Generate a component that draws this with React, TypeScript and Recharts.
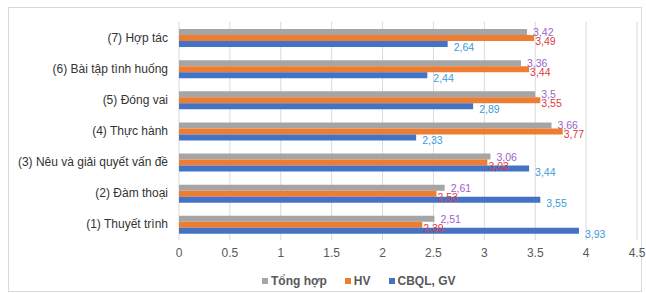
import { BarChart, Bar, XAxis, YAxis, CartesianGrid, LabelList } from 'recharts'

const categories = [
  '(7) Hợp tác',
  '(6) Bài tập tình huống',
  '(5) Đóng vai',
  '(4) Thực hành',
  '(3) Nêu và giải quyết vấn đề',
  '(2) Đàm thoại',
  '(1) Thuyết trình',
]
const tongHop = [3.42, 3.36, 3.5, 3.66, 3.06, 2.61, 2.51]
const hv = [3.49, 3.44, 3.55, 3.77, 3.03, 2.53, 2.39]
const cbql = [2.64, 2.44, 2.89, 2.33, 3.44, 3.55, 3.93]
const xTicks = [0, 0.5, 1, 1.5, 2, 2.5, 3, 3.5, 4, 4.5]

const series = [
  { key: 'tongHop', name: 'Tổng hợp', color: '#A5A5A5', label: '#9D63C9', dx: 6, dy: 0 },
  { key: 'hv', name: 'HV', color: '#ED7D31', label: '#E0393E', dx: 1, dy: 3 },
  { key: 'cbql', name: 'CBQL, GV', color: '#4472C4', label: '#3C9BDC', dx: 6, dy: 3 },
]

const data = categories.map((name, i) => ({ name, tongHop: tongHop[i], hv: hv[i], cbql: cbql[i] }))

const font = '"Liberation Sans", Arial, sans-serif'

const makeLabel = (color: string, dx: number, dy: number) => (props: any) => {
  const { x, y, width, height, value } = props
  return (
    <text
      x={Number(x) + Number(width) + dx}
      y={Number(y) + Number(height) / 2 + dy}
      fill={color}
      fontSize={10.5}
      fontFamily={font}
      dominantBaseline="central"
    >
      {String(value).replace('.', ',')}
    </text>
  )
}

const CategoryTick = (props: any) => {
  const { x, y, payload } = props
  return (
    <text x={x} y={y} textAnchor="end" dominantBaseline="central" fontSize={12} fill="#333333" fontFamily={font}>
      {payload.value}
    </text>
  )
}

export default function App() {
  return (
    <div style={{ position: 'absolute', left: 0, top: 0, width: 646, height: 293, background: '#fff' }}>
      <div style={{ position: 'absolute', left: 8, top: 7, width: 632, height: 283, border: '1px solid #D9D9D9' }} />
      <BarChart
        width={646}
        height={293}
        data={data}
        layout="vertical"
        margin={{ top: 22, right: 9, bottom: 28, left: 0 }}
        barSize={6}
        barGap={0}
      >
        <CartesianGrid horizontal={false} stroke="#D9D9D9" />
        <XAxis
          type="number"
          domain={[0, 4.5]}
          ticks={xTicks}
          axisLine={false}
          tickLine={false}
          height={25}
          tick={{ fontSize: 12, fill: '#595959', fontFamily: font }}
        />
        <YAxis
          type="category"
          dataKey="name"
          width={179}
          axisLine={false}
          tickLine={false}
          tickMargin={5}
          tick={<CategoryTick />}
        />
        {series.map((s) => (
          <Bar key={s.key} dataKey={s.key} name={s.name} fill={s.color} isAnimationActive={false}>
            <LabelList dataKey={s.key} content={makeLabel(s.label, s.dx, s.dy)} />
          </Bar>
        ))}
      </BarChart>
      <div
        style={{
          position: 'absolute',
          left: 262,
          top: 274,
          display: 'flex',
          gap: 18,
          fontFamily: font,
          fontSize: 12,
          fontWeight: 600,
          color: '#595959',
        }}
      >
        {series.map((s) => (
          <span key={s.key} style={{ display: 'flex', alignItems: 'center', gap: 3 }}>
            <span style={{ width: 6, height: 6, background: s.color, display: 'inline-block' }} />
            {s.name}
          </span>
        ))}
      </div>
    </div>
  )
}
